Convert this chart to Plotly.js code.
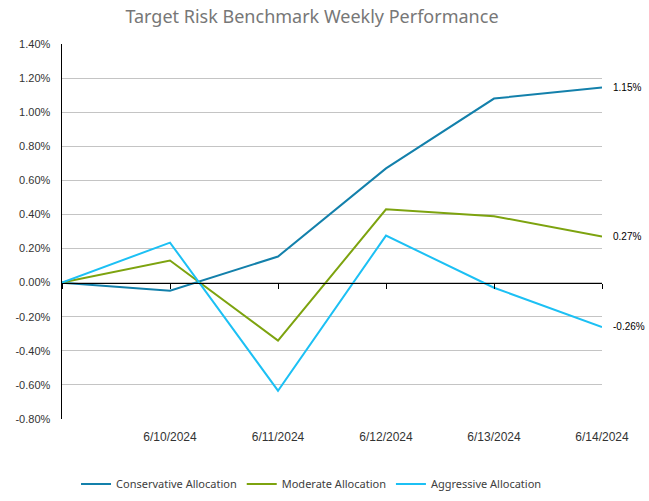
<!DOCTYPE html>
<html>
<head>
<meta charset="utf-8">
<script src="https://cdn.plot.ly/plotly-3.0.1.min.js"></script>
<style>html,body{margin:0;padding:0;background:#fff;}#chart{width:649px;height:501px;}</style>
</head>
<body>
<div id="chart"></div>
<script>
var categories = ["", "6/10/2024", "6/11/2024", "6/12/2024", "6/13/2024", "6/14/2024"];
var conservative = [0.0, -0.047, 0.153, 0.67, 1.08, 1.145];
var moderate = [0.0, 0.13, -0.34, 0.43, 0.39, 0.27];
var aggressive = [0.0, 0.235, -0.634, 0.276, -0.03, -0.26];
var endLabels = ["1.15%", "0.27%", "-0.26%"];
var yTicks = [-0.8, -0.6, -0.4, -0.2, 0, 0.2, 0.4, 0.6, 0.8, 1.0, 1.2, 1.4];

var xIdx = categories.map(function(c, i){ return i; });
var lastI = xIdx.length - 1;

function mk(name, ys, color){
  return {
    x: xIdx, y: ys, name: name, type: "scatter", mode: "lines",
    line: {color: color, width: 2}, hoverinfo: "skip"
  };
}
var data = [
  mk("Conservative Allocation", conservative, "#1380AB"),
  mk("Moderate Allocation", moderate, "#7DA30F"),
  mk("Aggressive Allocation", aggressive, "#1CC0F4"),
  {x: xIdx, y: xIdx.map(function(){return 0;}), xaxis: "x2", yaxis: "y", mode: "lines",
   line: {width: 0}, showlegend: false, hoverinfo: "skip"}
];

var series = [conservative, moderate, aggressive];
var annotations = series.map(function(s, k){
  return {x: lastI, y: s[lastI], xref: "x", yref: "y", text: endLabels[k], showarrow: false,
          xanchor: "left", yanchor: "middle", xshift: 9,
          font: {family: "Liberation Sans, Arial, sans-serif", size: 10, color: "#000"}};
});

var layout = {
  width: 649, height: 501,
  margin: {l: 62, r: 47, t: 44, b: 82},
  paper_bgcolor: "#fff", plot_bgcolor: "#fff",
  annotations: annotations,
  title: {text: "Target Risk Benchmark Weekly Performance", x: 312/649, xref: "container", xanchor: "center",
          y: 1 - 17/501, yref: "container", yanchor: "middle",
          font: {family: "Noto Sans, Open Sans, sans-serif", size: 18, color: "#777777"}},
  xaxis: {range: [0, 5], tickmode: "array", tickvals: xIdx, ticktext: categories,
          showgrid: false, zeroline: false, showline: false, ticks: "",
          tickfont: {family: "Liberation Sans, Arial, sans-serif", size: 12, color: "#333"},
          ticklabelstandoff: 9, fixedrange: true},
  xaxis2: {range: [0, 5], overlaying: "x", anchor: "free", position: 0.8/2.2,
           tickmode: "array", tickvals: xIdx, showticklabels: false,
           showline: true, linecolor: "#000", linewidth: 1.5,
           ticks: "outside", ticklen: 5, tickcolor: "#000", tickwidth: 1,
           showgrid: false, zeroline: false},
  yaxis: {range: [-0.8, 1.4], tickmode: "array", tickvals: yTicks,
          ticktext: yTicks.map(function(v){ return v.toFixed(2) + "%"; }),
          showgrid: true, gridcolor: "#C4C4C4", gridwidth: 1,
          zeroline: false, showline: true, linecolor: "#000", linewidth: 1.5,
          ticks: "", ticklabelstandoff: 8,
          tickfont: {family: "Liberation Sans, Arial, sans-serif", size: 11, color: "#333"}},
  showlegend: true,
  legend: {orientation: "h", x: 0.48, xref: "container", xanchor: "center",
           y: 1 - 484/501, yref: "container", yanchor: "middle",
           font: {family: "Noto Sans, Open Sans, sans-serif", size: 11, color: "#404040"},
           itemwidth: 30, tracegroupgap: 0, traceorder: "normal"}
};
Plotly.newPlot("chart", data, layout, {displayModeBar: false, staticPlot: true});
</script>
</body>
</html>
